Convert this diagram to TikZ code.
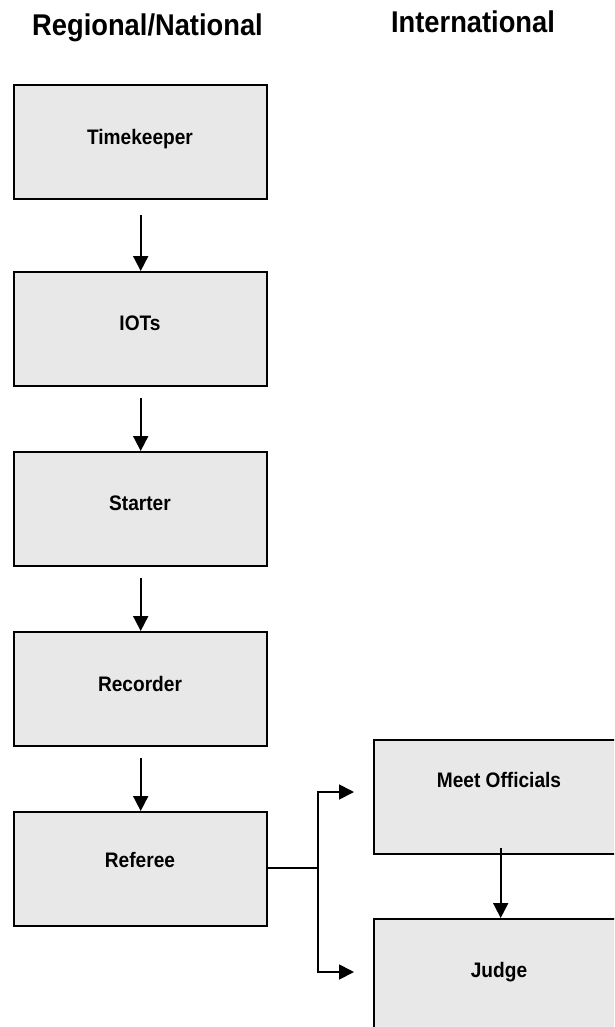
\documentclass[tikz,border=0pt]{standalone}
\usepackage{fontspec}
\setmainfont[FakeStretch=0.91]{Liberation Sans}
\usetikzlibrary{arrows.meta}
\definecolor{boxfill}{HTML}{E8E8E8}
\tikzset{
  box/.style={draw=black, fill=boxfill, line width=2.4pt, minimum width=253pt, minimum height=114pt, inner sep=0pt, anchor=north west},
  lbl/.style={anchor=base, inner sep=0pt, font=\fontsize{21}{25}\selectfont\bfseries},
  hdr/.style={anchor=base, inner sep=0pt, font=\fontsize{30}{36}\selectfont\bfseries},
  arr/.style={line width=1.8pt, -{Triangle[width=15pt,length=15pt]}},
  conn/.style={line width=1.8pt}
}
\begin{document}
\begin{tikzpicture}[x=1pt,y=-1pt]
\useasboundingbox (0,0) rectangle (614,1027);
\clip (0,0) rectangle (614,1027);
\fill[white] (0,0) rectangle (614,1027);
% headers
\node[hdr] (h1) at (147.5,36) {Regional/National};
\node[hdr] (h2) at (473,33) {International};
% left column boxes
\node[box] (tk) at (13,84) {};
\node[box] (io) at (13,271) {};
\node[box] (st) at (13,451) {};
\node[box] (rc) at (13,631) {};
\node[box] (rf) at (13,811) {};
% right column boxes
\node[box] (mo) at (373,739) {};
\node[box] (jd) at (373,918) {};
% labels
\node[lbl] (tkl) at (140,145) {Timekeeper};
\node[lbl] (iol) at (140,330) {IOTs};
\node[lbl] (stl) at (140,510) {Starter};
\node[lbl] (rcl) at (140,691) {Recorder};
\node[lbl] (rfl) at (140,867) {Referee};
\node[lbl] (mol) at (499,787) {Meet Officials};
\node[lbl] (jdl) at (499,977) {Judge};
% vertical arrows
\draw[arr] ([yshift=-15pt]tk.south) -- (io.north);
\draw[arr] ([yshift=-11pt]io.south) -- (st.north);
\draw[arr] ([yshift=-11pt]st.south) -- (rc.north);
\draw[arr] ([yshift=-11pt]rc.south) -- (rf.north);
\draw[arr] ([yshift=7pt]mo.south) -- (jd.north);
% branch from referee
\coordinate (br) at (318,868);
\coordinate (eu) at (354,792);
\coordinate (el) at (354,972);
\draw[conn] (rf.east |- br) -- (br);
\draw[arr] (br) |- (eu);
\draw[arr] (br) |- (el);
\end{tikzpicture}
\end{document}
